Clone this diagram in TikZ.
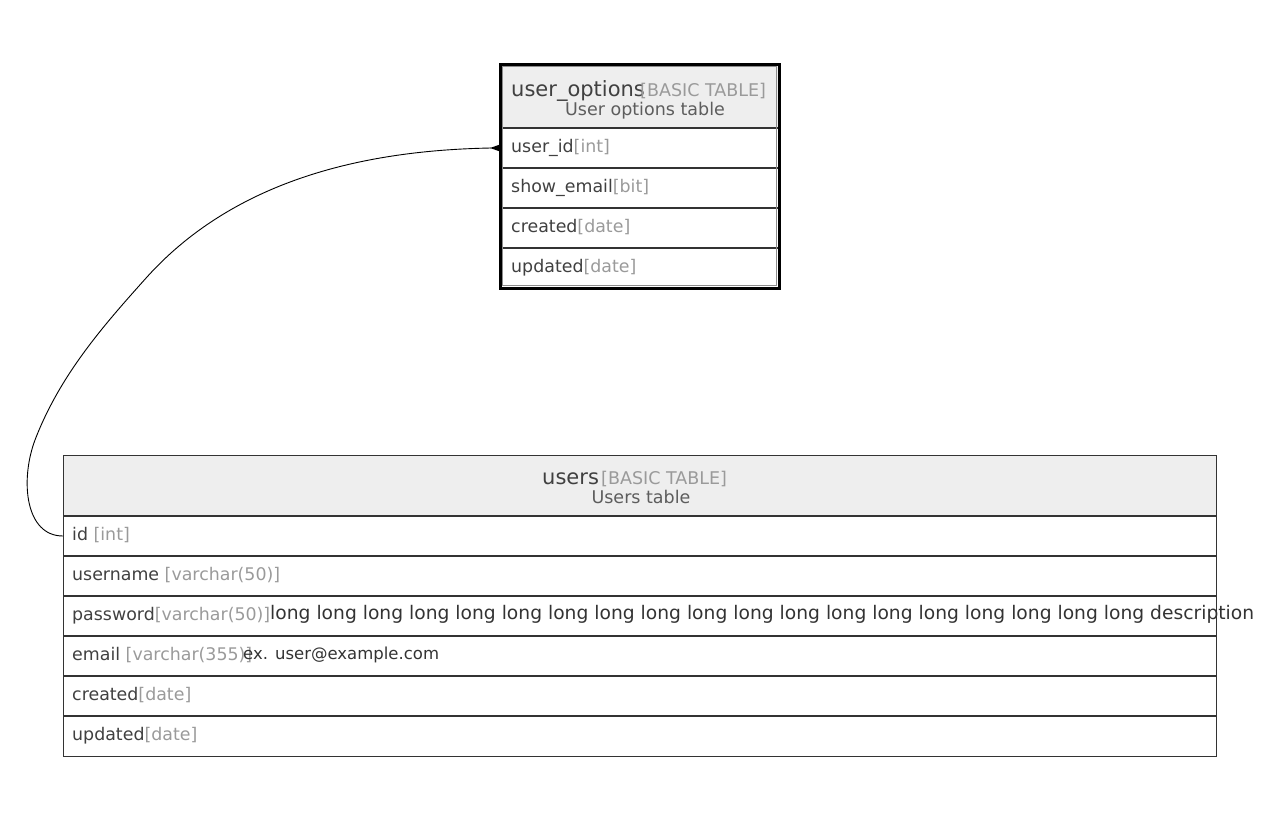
\documentclass[tikz,border=0pt]{standalone}
\usepackage{fontspec}
\setmainfont{DejaVu Sans}
\definecolor{fieldgrey}{HTML}{404040}
\definecolor{typegrey}{HTML}{9A9A9A}
\definecolor{headfill}{HTML}{EEEEEE}
\definecolor{linegrey}{HTML}{333333}
\definecolor{descgrey}{HTML}{333333}
\newcommand{\ty}[1]{\textcolor{typegrey}{#1}}
\begin{document}
\begin{tikzpicture}[x=1pt,y=-1pt,
  rowbox/.style={inner sep=0, outer sep=0, anchor=north west, minimum height=40pt},
  fieldtxt/.style={anchor=mid west, inner sep=0, text=fieldgrey, font=\fontsize{17.4}{19}\selectfont},
  titletxt/.style={anchor=base, inner sep=0, text=fieldgrey, font=\fontsize{21}{23}\selectfont},
  kindtxt/.style={anchor=base west, inner sep=0, text=typegrey, font=\fontsize{17.5}{19}\selectfont},
  subtxt/.style={anchor=base, inner sep=0, text=fieldgrey!85, font=\fontsize{17.5}{19}\selectfont},
  desctxt/.style={anchor=mid west, inner sep=0, text=descgrey},
  sepline/.style={draw=linegrey, line width=2pt},
  link/.style={draw=black, line width=0.9pt}
]
\useasboundingbox (0,0) rectangle (1279,819);

% ---------- user_options table ----------
\fill[headfill] (500,64) rectangle (779,128);
\node[rowbox, minimum width=279pt] (uo1) at (500,128) {};
\node[rowbox, minimum width=279pt] (uo2) at (500,168) {};
\node[rowbox, minimum width=279pt] (uo3) at (500,208) {};
\node[rowbox, minimum width=279pt] (uo4) at (500,248) {};
\foreach \yy in {128,168,208,248} \draw[sepline] (500,\yy) -- (779,\yy);
\draw[black, line width=3pt] (500,64) rectangle (779,288);
\draw[black!45, line width=1pt] (502.5,66.5) rectangle (776.5,285.5);

\node[titletxt, anchor=base west] (uotitle) at (511,96) {user\_options};
\node[kindtxt] (uokind) at (640,96) {[BASIC TABLE]};
\node[subtxt] (uosub) at (645,115) {User options table};
\node[fieldtxt] (uot1) at (511,149.5) {user\_id\ty{[int]}};
\node[fieldtxt] (uot2) at (511,189.5) {show\_email\ty{[bit]}};
\node[fieldtxt] (uot3) at (511,229.5) {created\ty{[date]}};
\node[fieldtxt] (uot4) at (511,269.5) {updated\ty{[date]}};

% ---------- users table ----------
\fill[headfill] (63,455) rectangle (1216,516);
\node[rowbox, minimum width=1153pt] (u1) at (63,516) {};
\node[rowbox, minimum width=1153pt] (u2) at (63,556) {};
\node[rowbox, minimum width=1153pt] (u3) at (63,596) {};
\node[rowbox, minimum width=1153pt] (u4) at (63,636) {};
\node[rowbox, minimum width=1153pt] (u5) at (63,676) {};
\node[rowbox, minimum width=1153pt] (u6) at (63,716) {};
\foreach \yy in {516,556,596,636,676,716} \draw[sepline] (63,\yy) -- (1216,\yy);
\draw[linegrey, line width=1pt] (63,455) rectangle (1216,756);

\node[titletxt, anchor=base west] (utitle) at (542,484) {users};
\node[kindtxt] (ukind) at (601,484) {[BASIC TABLE]};
\node[subtxt] (usub) at (641,503) {Users table};
\node[fieldtxt] (ut1) at (72,538) {id \ty{[int]}};
\node[fieldtxt] (ut2) at (72,578) {username \ty{[varchar(50)]}};
\node[fieldtxt] (ut3) at (72,618) {password\ty{[varchar(50)]}};
\node[fieldtxt] (ut4) at (72,658) {email \ty{[varchar(355)]}};
\node[fieldtxt] (ut5) at (72,698) {created\ty{[date]}};
\node[fieldtxt] (ut6) at (72,738) {updated\ty{[date]}};
\node[desctxt, font=\fontsize{18.7}{20}\selectfont] (ud3) at (270,617) {long long long long long long long long long long long long long long long long long long long description};
\node[desctxt, font=\fontsize{16.5}{18}\selectfont] (ud4) at (243,657) {ex. user@example.com};

% ---------- relation ----------
\coordinate (k1) at (35,440);
\coordinate (k2) at (147,277);
\draw[link] (u1.west)
  .. controls (25,536) and (20,480) .. (k1)
  .. controls (60,375) and (103,326) .. (k2)
  .. controls (241,173) and (380,150) .. ([xshift=-9pt]uo1.west);
\fill[black] ([xshift=-10pt]uo1.west) -- ([yshift=-3.5pt]uo1.west) -- ([yshift=3.5pt]uo1.west) -- cycle;
\end{tikzpicture}
\end{document}
